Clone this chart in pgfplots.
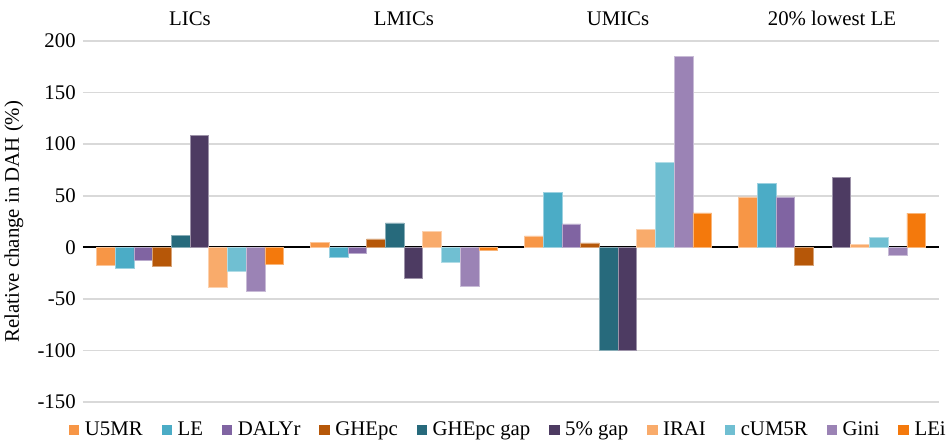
\documentclass[border=0pt]{standalone}
\usepackage{fontspec}
\setmainfont{Liberation Serif}
\usepackage{pgfplots}
\pgfplotsset{compat=1.18}

\definecolor{cU5MR}{HTML}{F79646}
\definecolor{cLE}{HTML}{4BACC6}
\definecolor{cDALY}{HTML}{8064A2}
\definecolor{cGHE}{HTML}{B65708}
\definecolor{cGHEgap}{HTML}{276A7C}
\definecolor{cGap}{HTML}{4D3B62}
\definecolor{cIRAI}{HTML}{F9AB6B}
\definecolor{cCUM}{HTML}{70BFD2}
\definecolor{cGini}{HTML}{9B83B5}
\definecolor{cLEi}{HTML}{F4790C}
\definecolor{gridgray}{HTML}{D9D9D9}

\pgfplotsset{
  mybar/.style={fill=#1, draw=#1!55!white, line width=0.3pt,
    legend image code/.code={\fill[#1] (0pt,-2.375pt) rectangle (4.75pt,2.375pt);}},
}

\begin{document}
\fontsize{10.4}{12.5}\selectfont
\begin{tikzpicture}
\begin{axis}[
    name=ax,
    scale only axis,
    width=428pt, height=180.5pt,
    ybar=0pt, bar width=0.0874,
    xmin=-0.5, xmax=3.5, ymin=-150, ymax=200,
    xtick={0,1,2,3},
    xticklabels={LICs,LMICs,UMICs,20\% lowest LE},
    xticklabel pos=upper,
    xticklabel style={yshift=4pt},
    ytick={-150,-100,...,200},
    axis line style={draw=none},
    major tick length=0pt,
    ymajorgrids,
    grid style={color=gridgray, line width=0.8pt},
    extra y ticks={0}, extra y tick labels={},
    extra y tick style={grid style={black, line width=1.1pt}},
    ylabel={Relative change in DAH (\%)},
    /pgf/number format/assume math mode=true,
    tick label style={font=\fontsize{10.4}{12.5}\selectfont},
    label style={font=\fontsize{10.4}{12.5}\selectfont},
    legend style={at={(0.498,-0.0776)}, anchor=center, draw=none, fill=none,
      legend columns=10, font=\fontsize{10.4}{12.5}\selectfont,
      /tikz/every even column/.append style={column sep=7.4pt},
      /tikz/every odd column/.append style={column sep=1pt}},
]
\addplot[mybar=cU5MR]   coordinates {(0,-17.8) (1,4.9) (2,11) (3,48.9)};
\addplot[mybar=cLE]     coordinates {(0,-20) (1,-9.3) (2,53.4) (3,61.8)};
\addplot[mybar=cDALY]   coordinates {(0,-13) (1,-5.8) (2,22.7) (3,48.9)};
\addplot[mybar=cGHE]    coordinates {(0,-18.4) (1,8.1) (2,4.3) (3,-17.5)};
\addplot[mybar=cGHEgap] coordinates {(0,11.7) (1,23.7) (2,-100)};
\addplot[mybar=cGap]    coordinates {(0,108.7) (1,-30.1) (2,-100) (3,67.4)};
\addplot[mybar=cIRAI]   coordinates {(0,-38.5) (1,15.2) (2,17.2) (3,2.9)};
\addplot[mybar=cCUM]    coordinates {(0,-22.9) (1,-14.9) (2,82.2) (3,9.4)};
\addplot[mybar=cGini]   coordinates {(0,-42.3) (1,-38.2) (2,184.9) (3,-7.8)};
\addplot[mybar=cLEi]    coordinates {(0,-16.5) (1,-2.5) (2,33.4) (3,33)};
\legend{U5MR,LE,DALYr,GHEpc,GHEpc gap,5\% gap,IRAI,cUM5R,Gini,LEi}
\end{axis}
\pgfresetboundingbox
\path[use as bounding box] ([xshift=-41.5pt,yshift=-20pt]ax.south west) rectangle ([xshift=5.5pt,yshift=20.5pt]ax.north east);
\end{tikzpicture}
\end{document}
